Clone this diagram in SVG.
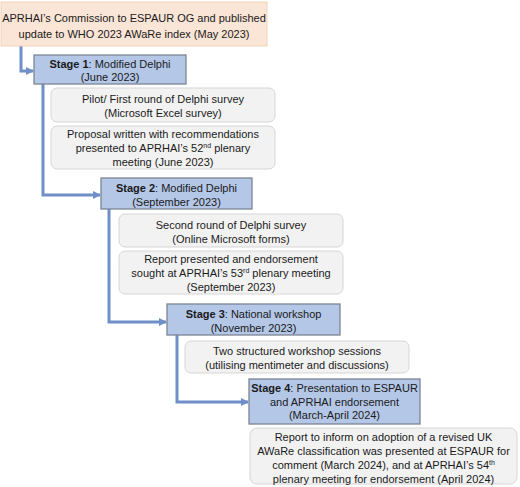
<svg xmlns="http://www.w3.org/2000/svg" width="520" height="487" viewBox="0 0 520 487">
<defs>
<style>
text{font-family:"Liberation Sans",Arial,sans-serif;font-size:11px;fill:#1a1a1a;text-anchor:middle}
.b{font-weight:bold}
.sup{font-size:7px}
.peach{fill:#fbe5d6;stroke:#f2d3bf;stroke-width:1}
.stage{fill:#b4c7e7;stroke:#7b8594;stroke-width:1.3}
.sub{fill:#f2f2f2;stroke:#d6d6d6;stroke-width:1}
.con{fill:none;stroke:#6f8fc8;stroke-width:3}
</style>
<marker id="ah" markerWidth="8" markerHeight="8" refX="7" refY="4" orient="auto" markerUnits="userSpaceOnUse">
<path d="M0,0 L8,4 L0,8 z" fill="#6f8fc8"/>
</marker>
</defs>
<rect width="520" height="487" fill="#ffffff"/>
<g id="connectors">
<path class="con" d="M21,46 V71 H33" marker-end="url(#ah)"/>
<path class="con" d="M43,84 V195 H100" marker-end="url(#ah)"/>
<path class="con" d="M109,209 V322 H166" marker-end="url(#ah)"/>
<path class="con" d="M177,335 V402 H248" marker-end="url(#ah)"/>
</g>
<g id="start">
<rect class="peach" x="1" y="2" width="266" height="44"/>
<text x="134" y="22">APRHAI’s Commission to ESPAUR OG and published</text>
<text x="134" y="38">update to WHO 2023 AWaRe index (May 2023)</text>
</g>
<g id="stage1">
<rect class="stage" x="34" y="55" width="152" height="29"/>
<text x="110" y="68"><tspan class="b">Stage 1</tspan>: Modified Delphi</text>
<text x="110" y="81">(June 2023)</text>
</g>
<g id="pilot">
<rect class="sub" x="51" y="88" width="224" height="34" rx="6"/>
<text x="163" y="103">Pilot/ First round of Delphi survey</text>
<text x="163" y="117">(Microsoft Excel survey)</text>
</g>
<g id="proposal">
<rect class="sub" x="51" y="126" width="224" height="43" rx="6"/>
<text x="163" y="138">Proposal written with recommendations</text>
<text x="163" y="152">presented to APRHAI’s 52<tspan class="sup" dy="-4">nd</tspan><tspan dy="4"> plenary</tspan></text>
<text x="163" y="166">meeting (June 2023)</text>
</g>
<g id="stage2">
<rect class="stage" x="101" y="178" width="151" height="31"/>
<text x="176.5" y="192"><tspan class="b">Stage 2</tspan>: Modified Delphi</text>
<text x="176.5" y="206">(September 2023)</text>
</g>
<g id="second">
<rect class="sub" x="119" y="214" width="224" height="33" rx="6"/>
<text x="231" y="229">Second round of Delphi survey</text>
<text x="231" y="243">(Online Microsoft forms)</text>
</g>
<g id="report2">
<rect class="sub" x="119" y="251" width="224" height="43" rx="6"/>
<text x="231" y="263">Report presented and endorsement</text>
<text x="231" y="277">sought at APRHAI’s 53<tspan class="sup" dy="-4">rd</tspan><tspan dy="4"> plenary meeting</tspan></text>
<text x="231" y="291">(September 2023)</text>
</g>
<g id="stage3">
<rect class="stage" x="167" y="304" width="173" height="31"/>
<text x="253.5" y="318"><tspan class="b">Stage 3</tspan>: National workshop</text>
<text x="253.5" y="332">(November 2023)</text>
</g>
<g id="workshop">
<rect class="sub" x="185" y="341" width="224" height="32" rx="6"/>
<text x="297" y="355">Two structured workshop sessions</text>
<text x="297" y="369">(utilising mentimeter and discussions)</text>
</g>
<g id="stage4">
<rect class="stage" x="249" y="379" width="171" height="45"/>
<text x="334.5" y="392"><tspan class="b">Stage 4</tspan>: Presentation to ESPAUR</text>
<text x="334.5" y="405.5">and APRHAI endorsement</text>
<text x="334.5" y="419">(March-April 2024)</text>
</g>
<g id="report4">
<rect class="sub" x="250" y="428" width="267" height="56" rx="7"/>
<text x="383.5" y="441">Report to inform on adoption of a revised UK</text>
<text x="383.5" y="455">AWaRe classification was presented at ESPAUR for</text>
<text x="383.5" y="469">comment (March 2024), and at APRHAI’s 54<tspan class="sup" dy="-4">th</tspan></text>
<text x="383.5" y="483">plenary meeting for endorsement (April 2024)</text>
</g>
</svg>
